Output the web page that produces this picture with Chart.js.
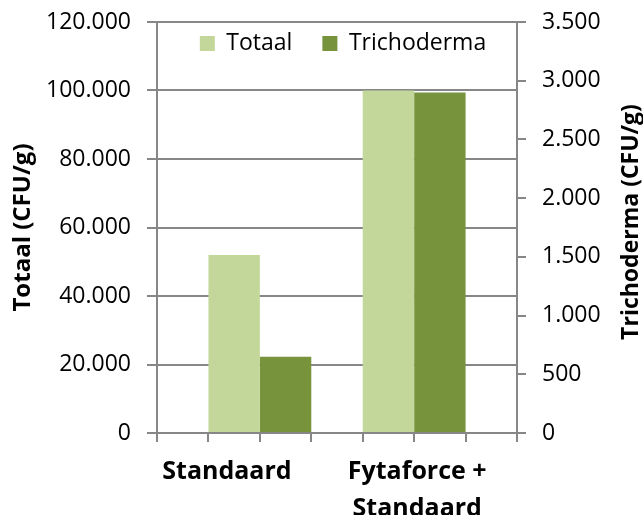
<!DOCTYPE html>
<html>
<head>
<meta charset="utf-8">
<script src="https://cdn.jsdelivr.net/npm/chart.js@4"></script>
<style>
  html, body { margin: 0; padding: 0; background: #fff; }
  #wrap { width: 643px; height: 515px; }
</style>
</head>
<body>
<div id="wrap"><canvas id="cfuChart"></canvas></div>
<script>
// data
const categories = ['Standaard', ['Fytaforce +', 'Standaard']];
const seriesNames = ['Totaal', 'Trichoderma'];
const totaal = [52000, 100000];
const trichoderma = [650, 2900];
const leftTicks = [0, 20000, 40000, 60000, 80000, 100000, 120000];
const rightTicks = [0, 500, 1000, 1500, 2000, 2500, 3000, 3500];
const axisTitles = ['Totaal (CFU/g)', 'Trichoderma (CFU/g)'];

const FONT = "'Open Sans', 'Liberation Sans', sans-serif";
const GRAY = '#878787';

// thousands with a dot, as in the original
function fmt(v) {
    return String(v).replace(/\B(?=(\d{3})+(?!\d))/g, '.');
}

// the x axis runs over 7 slots, each group sits on two of them
const groupSlot = categories.map((c, i) => 2 + 3 * i);
const labelSlot = [1.36, 5.06];

// legend sits inside the plot, under the top gridline
const legendInside = {
    id: 'legendInside',
    beforeInit(chart) {
        const legend = chart.legend;
        const fit = legend.fit;
        legend.fit = function () {
            fit.call(this);
            this.height = 0;
        };
    },
    afterLayout(chart) {
        const legend = chart.legend;
        const pad = legend.options.labels.padding;
        legend.top = chart.chartArea.top + 10 - pad;
        legend.bottom = legend.top + 2 * pad + 30;
        legend.height = legend.bottom - legend.top;
        legend.left += 6;
        legend.right += 6;
    }
};

// right axis title reads bottom to top like the left one
const rightTitle = {
    id: 'rightTitle',
    afterDraw(chart) {
        const ctx = chart.ctx;
        ctx.save();
        ctx.translate(631, 222);
        ctx.rotate(-Math.PI / 2);
        ctx.font = 'bold 23px ' + FONT;
        ctx.fillStyle = '#000';
        ctx.textAlign = 'center';
        ctx.textBaseline = 'middle';
        ctx.fillText(axisTitles[1], 0, 0);
        ctx.restore();
    }
};

new Chart(document.getElementById('cfuChart'), {
    type: 'bar',
    data: {
        datasets: [{
            label: seriesNames[0],
            data: totaal.map((v, i) => ({ x: groupSlot[i], y: v })),
            backgroundColor: '#C4D79B',
            yAxisID: 'y'
        },
        {
            label: seriesNames[1],
            data: trichoderma.map((v, i) => ({ x: groupSlot[i], y: v })),
            backgroundColor: '#77933C',
            yAxisID: 'y1'
        }]
    },
    options: {
        responsive: true,
        maintainAspectRatio: false,
        animation: false,
        categoryPercentage: 2,
        barPercentage: 1,
        layout: { padding: 0 },
        plugins: {
            legend: {
                position: 'top',
                fullSize: false,
                align: 'center',
                labels: {
                    font: { family: FONT, size: 23 },
                    color: '#000',
                    boxWidth: 15,
                    boxHeight: 15,
                    padding: 30
                }
            },
            tooltip: { enabled: false }
        },
        scales: {
            x: {
                type: 'linear',
                offset: false,
                min: 0,
                max: 7,
                position: 'bottom',
                ticks: { stepSize: 1, callback: () => '', autoSkip: false },
                grid: { offset: false, drawOnChartArea: false, color: GRAY, lineWidth: 2, tickLength: 9 },
                border: { color: GRAY, width: 2 },
                afterFit(scale) { scale.height = 9; }
            },
            xl: {
                type: 'linear',
                offset: false,
                min: 0,
                max: 7,
                position: 'bottom',
                grid: { display: false },
                border: { display: false },
                afterBuildTicks(scale) {
                    scale.ticks = labelSlot.map(v => ({ value: v }));
                },
                ticks: {
                    autoSkip: false,
                    maxRotation: 0,
                    padding: 4,
                    color: '#000',
                    font: { family: FONT, size: 25, weight: 'bold', lineHeight: 1.45 },
                    callback: (v, i) => categories[i]
                },
                afterFit(scale) { scale.height = 73; }
            },
            y: {
                position: 'left',
                min: 0,
                max: 120000,
                afterBuildTicks(scale) {
                    scale.ticks = leftTicks.map(v => ({ value: v }));
                },
                ticks: {
                    color: '#000',
                    padding: 16,
                    font: { family: FONT, size: 23 },
                    callback: v => fmt(v)
                },
                grid: { color: GRAY, lineWidth: 2, tickLength: 10 },
                border: { color: GRAY, width: 2 },
                title: {
                    display: true,
                    text: axisTitles[0],
                    color: '#000',
                    font: { family: FONT, size: 24, weight: 'bold' },
                    padding: { top: 9, bottom: 0 }
                },
                afterFit(scale) {
                    scale.width = 157;
                    scale.paddingTop = 22;
                }
            },
            y1: {
                position: 'right',
                min: 0,
                max: 3500,
                afterBuildTicks(scale) {
                    scale.ticks = rightTicks.map(v => ({ value: v }));
                },
                ticks: {
                    color: '#000',
                    padding: 16,
                    font: { family: FONT, size: 23 },
                    callback: v => fmt(v)
                },
                grid: { drawOnChartArea: false, color: GRAY, lineWidth: 2, tickLength: 9 },
                border: { color: GRAY, width: 2 },
                afterFit(scale) {
                    scale.width = 126;
                    scale.paddingTop = 22;
                }
            }
        }
    },
    plugins: [legendInside, rightTitle]
});
</script>
</body>
</html>
